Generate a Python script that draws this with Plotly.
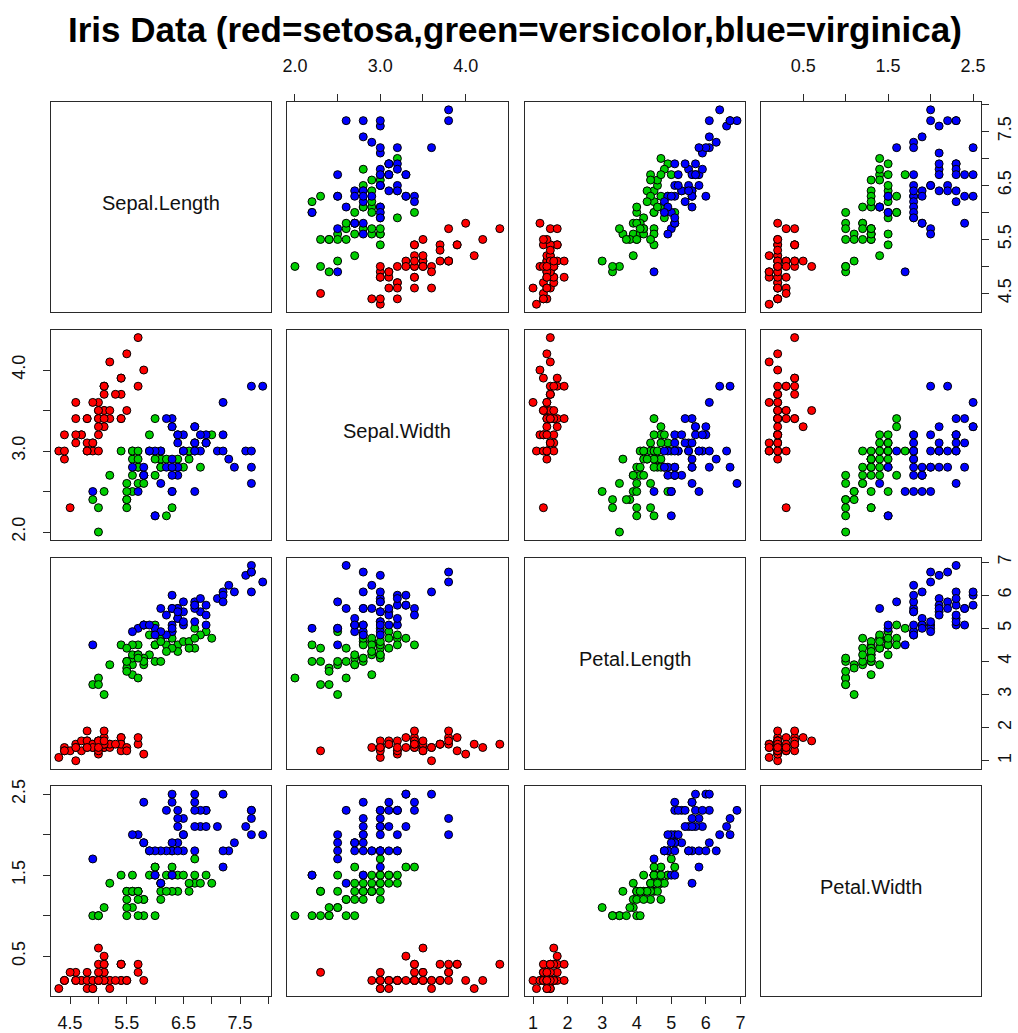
import plotly.graph_objects as go

# Edgar Anderson's iris measurements (cm), 50 flowers per species
sepal_length = [
    5.1, 4.9, 4.7, 4.6, 5.0, 5.4, 4.6, 5.0, 4.4, 4.9, 5.4, 4.8, 4.8, 4.3, 5.8, 5.7, 5.4, 5.1, 5.7, 5.1,
    5.4, 5.1, 4.6, 5.1, 4.8, 5.0, 5.0, 5.2, 5.2, 4.7, 4.8, 5.4, 5.2, 5.5, 4.9, 5.0, 5.5, 4.9, 4.4, 5.1,
    5.0, 4.5, 4.4, 5.0, 5.1, 4.8, 5.1, 4.6, 5.3, 5.0,
    7.0, 6.4, 6.9, 5.5, 6.5, 5.7, 6.3, 4.9, 6.6, 5.2, 5.0, 5.9, 6.0, 6.1, 5.6, 6.7, 5.6, 5.8, 6.2, 5.6,
    5.9, 6.1, 6.3, 6.1, 6.4, 6.6, 6.8, 6.7, 6.0, 5.7, 5.5, 5.5, 5.8, 6.0, 5.4, 6.0, 6.7, 6.3, 5.6, 5.5,
    5.5, 6.1, 5.8, 5.0, 5.6, 5.7, 5.7, 6.2, 5.1, 5.7,
    6.3, 5.8, 7.1, 6.3, 6.5, 7.6, 4.9, 7.3, 6.7, 7.2, 6.5, 6.4, 6.8, 5.7, 5.8, 6.4, 6.5, 7.7, 7.7, 6.0,
    6.9, 5.6, 7.7, 6.3, 6.7, 7.2, 6.2, 6.1, 6.4, 7.2, 7.4, 7.9, 6.4, 6.3, 6.1, 7.7, 6.3, 6.4, 6.0, 6.9,
    6.7, 6.9, 5.8, 6.8, 6.7, 6.7, 6.3, 6.5, 6.2, 5.9,
]
sepal_width = [
    3.5, 3.0, 3.2, 3.1, 3.6, 3.9, 3.4, 3.4, 2.9, 3.1, 3.7, 3.4, 3.0, 3.0, 4.0, 4.4, 3.9, 3.5, 3.8, 3.8,
    3.4, 3.7, 3.6, 3.3, 3.4, 3.0, 3.4, 3.5, 3.4, 3.2, 3.1, 3.4, 4.1, 4.2, 3.1, 3.2, 3.5, 3.6, 3.0, 3.4,
    3.5, 2.3, 3.2, 3.5, 3.8, 3.0, 3.8, 3.2, 3.7, 3.3,
    3.2, 3.2, 3.1, 2.3, 2.8, 2.8, 3.3, 2.4, 2.9, 2.7, 2.0, 3.0, 2.2, 2.9, 2.9, 3.1, 3.0, 2.7, 2.2, 2.5,
    3.2, 2.8, 2.5, 2.8, 2.9, 3.0, 2.8, 3.0, 2.9, 2.6, 2.4, 2.4, 2.7, 2.7, 3.0, 3.4, 3.1, 2.3, 3.0, 2.5,
    2.6, 3.0, 2.6, 2.3, 2.7, 3.0, 2.9, 2.9, 2.5, 2.8,
    3.3, 2.7, 3.0, 2.9, 3.0, 3.0, 2.5, 2.9, 2.5, 3.6, 3.2, 2.7, 3.0, 2.5, 2.8, 3.2, 3.0, 3.8, 2.6, 2.2,
    3.2, 2.8, 2.8, 2.7, 3.3, 3.2, 2.8, 3.0, 2.8, 3.0, 2.8, 3.8, 2.8, 2.8, 2.6, 3.0, 3.4, 3.1, 3.0, 3.1,
    3.1, 3.1, 2.7, 3.2, 3.3, 3.0, 2.5, 3.0, 3.4, 3.0,
]
petal_length = [
    1.4, 1.4, 1.3, 1.5, 1.4, 1.7, 1.4, 1.5, 1.4, 1.5, 1.5, 1.6, 1.4, 1.1, 1.2, 1.5, 1.3, 1.4, 1.7, 1.5,
    1.7, 1.5, 1.0, 1.7, 1.9, 1.6, 1.6, 1.5, 1.4, 1.6, 1.6, 1.5, 1.5, 1.4, 1.5, 1.2, 1.3, 1.4, 1.3, 1.5,
    1.3, 1.3, 1.3, 1.6, 1.9, 1.4, 1.6, 1.4, 1.5, 1.4,
    4.7, 4.5, 4.9, 4.0, 4.6, 4.5, 4.7, 3.3, 4.6, 3.9, 3.5, 4.2, 4.0, 4.7, 3.6, 4.4, 4.5, 4.1, 4.5, 3.9,
    4.8, 4.0, 4.9, 4.7, 4.3, 4.4, 4.8, 5.0, 4.5, 3.5, 3.8, 3.7, 3.9, 5.1, 4.5, 4.5, 4.7, 4.4, 4.1, 4.0,
    4.4, 4.6, 4.0, 3.3, 4.2, 4.2, 4.2, 4.3, 3.0, 4.1,
    6.0, 5.1, 5.9, 5.6, 5.8, 6.6, 4.5, 6.3, 5.8, 6.1, 5.1, 5.3, 5.5, 5.0, 5.1, 5.3, 5.5, 6.7, 6.9, 5.0,
    5.7, 4.9, 6.7, 4.9, 5.7, 6.0, 4.8, 4.9, 5.6, 5.8, 6.1, 6.4, 5.6, 5.1, 5.6, 6.1, 5.6, 5.5, 4.8, 5.4,
    5.6, 5.1, 5.1, 5.9, 5.7, 5.2, 5.0, 5.2, 5.4, 5.1,
]
petal_width = [
    0.2, 0.2, 0.2, 0.2, 0.2, 0.4, 0.3, 0.2, 0.2, 0.1, 0.2, 0.2, 0.1, 0.1, 0.2, 0.4, 0.4, 0.3, 0.3, 0.3,
    0.2, 0.4, 0.2, 0.5, 0.2, 0.2, 0.4, 0.2, 0.2, 0.2, 0.2, 0.4, 0.1, 0.2, 0.2, 0.2, 0.2, 0.1, 0.2, 0.2,
    0.3, 0.3, 0.2, 0.6, 0.4, 0.3, 0.2, 0.2, 0.2, 0.2,
    1.4, 1.5, 1.5, 1.3, 1.5, 1.3, 1.6, 1.0, 1.3, 1.4, 1.0, 1.5, 1.0, 1.4, 1.3, 1.4, 1.5, 1.0, 1.5, 1.1,
    1.8, 1.3, 1.5, 1.2, 1.3, 1.4, 1.4, 1.7, 1.5, 1.0, 1.1, 1.0, 1.2, 1.6, 1.5, 1.6, 1.5, 1.3, 1.3, 1.3,
    1.2, 1.4, 1.2, 1.0, 1.3, 1.2, 1.3, 1.3, 1.1, 1.3,
    2.5, 1.9, 2.1, 1.8, 2.2, 2.1, 1.7, 1.8, 1.8, 2.5, 2.0, 1.9, 2.1, 2.0, 2.4, 2.3, 1.8, 2.2, 2.3, 1.5,
    2.3, 2.0, 2.0, 1.8, 2.1, 1.8, 1.8, 1.8, 2.1, 1.6, 1.9, 2.0, 2.2, 1.5, 1.4, 2.3, 2.4, 1.8, 1.8, 2.1,
    2.4, 2.3, 1.9, 2.3, 2.5, 2.3, 1.9, 2.0, 2.3, 1.8,
]
species = ["setosa"] * 50 + ["versicolor"] * 50 + ["virginica"] * 50

var_names = ["Sepal.Length", "Sepal.Width", "Petal.Length", "Petal.Width"]
columns = [sepal_length, sepal_width, petal_length, petal_width]

species_order = ["setosa", "versicolor", "virginica"]
species_colors = {"setosa": "#FF0000", "versicolor": "#00CD00", "virginica": "#0000FF"}

# Axis ticks for each variable; only every other tick carries a label
tick_vals = [
    [4.5, 5.0, 5.5, 6.0, 6.5, 7.0, 7.5, 8.0],
    [2.0, 2.5, 3.0, 3.5, 4.0],
    [1, 2, 3, 4, 5, 6, 7],
    [0.5, 1.0, 1.5, 2.0, 2.5],
]
tick_text = [
    ["4.5", "", "5.5", "", "6.5", "", "7.5", ""],
    ["2.0", "", "3.0", "", "4.0"],
    ["1", "2", "3", "4", "5", "6", "7"],
    ["0.5", "", "1.5", "", "2.5"],
]

W, H = 1018, 1033
col_px = [(47, 269), (285, 508), (525, 747), (763, 985)]
row_px = [(96, 308), (326, 538), (556, 769), (787, 999)]

FONT = "Liberation Sans, Arial, Helvetica, sans-serif"
LINE = "#2a2a2a"
STANDOFF = {"top": 15, "bottom": 3, "left": 10, "right": 0}


def axis_range(vals):
    lo, hi = min(vals), max(vals)
    pad = 0.04 * (hi - lo)
    return [lo - pad, hi + pad]


ranges = [axis_range(c) for c in columns]

fig = go.Figure()
layout = {}
annotations = []

n = len(var_names)
for r in range(n):
    for c in range(n):
        k = r * n + c + 1
        xa = "x" if k == 1 else f"x{k}"
        ya = "y" if k == 1 else f"y{k}"
        xkey = "xaxis" if k == 1 else f"xaxis{k}"
        ykey = "yaxis" if k == 1 else f"yaxis{k}"

        x0, x1 = col_px[c]
        y0, y1 = row_px[r]

        xside = None
        if r == 0 and c % 2 == 1:
            xside = "top"
        elif r == n - 1 and c % 2 == 0:
            xside = "bottom"
        yside = None
        if c == 0 and r % 2 == 1:
            yside = "left"
        elif c == n - 1 and r % 2 == 0:
            yside = "right"

        xaxis = dict(
            domain=[x0 / W, x1 / W], range=ranges[c], anchor=ya,
            showgrid=False, zeroline=False, showline=True, mirror=True,
            linecolor=LINE, linewidth=1, fixedrange=True,
        )
        if xside:
            xaxis.update(
                side=xside, ticks="outside", ticklen=7, tickwidth=1, tickcolor=LINE,
                tickmode="array", tickvals=tick_vals[c], ticktext=tick_text[c],
                tickfont=dict(family=FONT, size=18, color="#111111"),
                ticklabelstandoff=STANDOFF[xside],
                showticklabels=True,
            )
        else:
            xaxis.update(showticklabels=False, ticks="")

        yaxis = dict(
            domain=[1 - y1 / H, 1 - y0 / H], range=ranges[r], anchor=xa,
            showgrid=False, zeroline=False, showline=True, mirror=True,
            linecolor=LINE, linewidth=1, fixedrange=True,
        )
        if yside:
            yaxis.update(
                side=yside, ticks="outside", ticklen=7, tickwidth=1, tickcolor=LINE,
                tickmode="array", tickvals=tick_vals[r], ticktext=tick_text[r],
                tickfont=dict(family=FONT, size=18, color="#111111"),
                tickangle=-90, ticklabelstandoff=STANDOFF[yside],
                showticklabels=True,
            )
        else:
            yaxis.update(showticklabels=False, ticks="")

        layout[xkey] = xaxis
        layout[ykey] = yaxis

        if r == c:
            # empty trace so the diagonal panel box is drawn
            fig.add_trace(go.Scatter(
                x=[None], y=[None], mode="markers", xaxis=xa, yaxis=ya,
                showlegend=False, hoverinfo="skip",
            ))
            annotations.append(dict(
                text=var_names[r], xref=f"{xa} domain", yref=f"{ya} domain",
                x=0.5, y=0.5, yshift=4, showarrow=False,
                font=dict(family=FONT, size=20, color="#111111"),
            ))
            continue

        for sp in species_order:
            idx = [i for i, s in enumerate(species) if s == sp]
            fig.add_trace(go.Scatter(
                x=[columns[c][i] for i in idx],
                y=[columns[r][i] for i in idx],
                mode="markers", xaxis=xa, yaxis=ya, name=sp, showlegend=False,
                marker=dict(size=8, color=species_colors[sp],
                            line=dict(color="#000000", width=1)),
                hoverinfo="skip",
            ))

annotations.append(dict(
    text="<b>Iris Data (red=setosa,green=versicolor,blue=virginica)</b>",
    xref="paper", yref="paper", x=515.5 / W, y=1 - 23 / H,
    xanchor="center", yanchor="middle", showarrow=False,
    font=dict(family=FONT, size=35, color="#000000"),
))

fig.update_layout(
    width=W, height=H,
    margin=dict(l=0, r=0, t=0, b=0),
    paper_bgcolor="white", plot_bgcolor="white",
    showlegend=False,
    annotations=annotations,
    **layout,
)

fig.write_html("out.html", include_plotlyjs=True, config={"displayModeBar": False})
